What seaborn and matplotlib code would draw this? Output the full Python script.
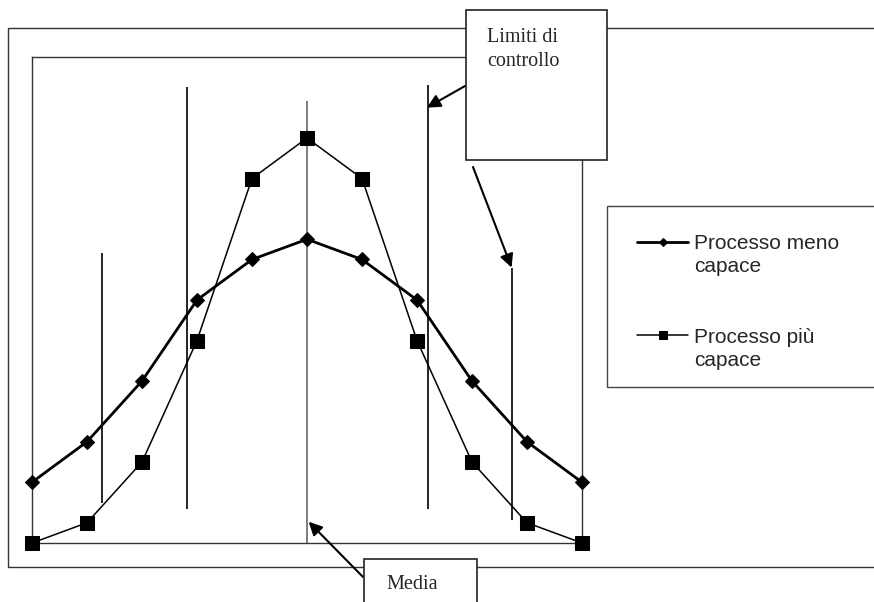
import pandas as pd
import seaborn as sns
import matplotlib.pyplot as plt
from matplotlib.lines import Line2D
from matplotlib.patches import Rectangle

sns.set_style('white')
plt.rcParams['font.family'] = ['Liberation Sans', 'DejaVu Sans']

# dati
punti = list(range(11))
meno_capace = [0.06, 0.10, 0.16, 0.24, 0.28, 0.30, 0.28, 0.24, 0.16, 0.10, 0.06]
piu_capace = [0.00, 0.02, 0.08, 0.20, 0.36, 0.40, 0.36, 0.20, 0.08, 0.02, 0.00]
etichette = ['Processo meno\ncapace', 'Processo più\ncapace']

# limiti di controllo (x, inizio, fine) e media
limiti_x = [1.275, 2.82, 7.195, 8.725]
limiti_y0 = [0.040, 0.034, 0.034, 0.023]
limiti_y1 = [0.286, 0.450, 0.452, 0.272]
media_x = 5.0
media_y1 = 0.437

W, H = 874, 602
def fx(x): return x / W
def fy(y): return 1 - y / H

fig = plt.figure(figsize=(W / 100, H / 100), dpi=100)
ax = fig.add_axes([fx(32), fy(543), (582 - 32) / W, (543 - 57) / H])
ax.set_facecolor('none')

df = pd.DataFrame({'x': punti, 'meno': meno_capace, 'piu': piu_capace})

sns.lineplot(data=df, x='x', y='meno', ax=ax, color='black', lw=2.0,
             marker='D', markersize=7.5, markeredgecolor='black',
             label=etichette[0], legend=False, clip_on=False, zorder=4)
sns.lineplot(data=df, x='x', y='piu', ax=ax, color='black', lw=1.1,
             marker='s', markersize=10, markeredgecolor='black',
             label=etichette[1], legend=False, clip_on=False, zorder=4)

ax.vlines(limiti_x, limiti_y0, limiti_y1, color='black', lw=1.2, zorder=2)
ax.vlines([media_x], [0], [media_y1], color='#666666', lw=1.2, zorder=2)

ax.set_xlim(0, 10)
ax.set_ylim(0, 0.48)
ax.set_xticks([])
ax.set_yticks([])
ax.set_xlabel('')
ax.set_ylabel('')
for s in ax.spines.values():
    s.set_color('#333333')
    s.set_linewidth(1)

# cornice esterna
fig.patches.append(Rectangle((fx(8), fy(567)), (900 - 8) / W, (567 - 28) / H,
                             transform=fig.transFigure, fill=False,
                             edgecolor='#333333', lw=1, zorder=-1))

# legenda con riquadro
fig.patches.append(Rectangle((fx(607), fy(387)), (900 - 607) / W, (387 - 206) / H,
                             transform=fig.transFigure, facecolor='white',
                             edgecolor='#444444', lw=1, zorder=3))
handles, labels = ax.get_legend_handles_labels()
leg = fig.legend(handles, labels, loc='upper left',
                 bbox_to_anchor=(fx(637), fy(234)), bbox_transform=fig.transFigure,
                 frameon=False, fontsize=15, handlelength=2.45, handletextpad=0.3,
                 labelspacing=2.45, borderpad=0, borderaxespad=0, markerscale=0.6)
leg.set_zorder(6)
for t in leg.get_texts():
    t.set_linespacing(1.3)
# simbolo all'altezza della prima riga
for ln in leg.findobj(Line2D):
    ln.set_ydata([y + 10 for y in ln.get_ydata()])

# richiami
serif = ['Liberation Serif', 'DejaVu Serif']
fig.patches.append(Rectangle((fx(466), fy(160)), (607 - 466) / W, (160 - 10) / H,
                             transform=fig.transFigure, facecolor='white',
                             edgecolor='#222222', lw=1.2, zorder=5))
fig.text(fx(487), fy(28), 'Limiti di\ncontrollo', family=serif, fontsize=14.5,
         va='top', ha='left', linespacing=1.35, zorder=6)

fig.patches.append(Rectangle((fx(364), fy(620)), (477 - 364) / W, (620 - 559) / H,
                             transform=fig.transFigure, facecolor='white',
                             edgecolor='#222222', lw=1.2, zorder=5))
fig.text(fx(386), fy(589), 'Media', family=serif, fontsize=14.5,
         va='baseline', ha='left', zorder=6)

freccia = dict(arrowstyle='-|>', color='black', lw=1.5, mutation_scale=20,
               shrinkA=0, shrinkB=0)
ax.annotate('', xy=(7.18, 0.430), xytext=(465, H - 86), textcoords='figure pixels',
            arrowprops=freccia, annotation_clip=False)
ax.annotate('', xy=(8.72, 0.272), xytext=(473, H - 167), textcoords='figure pixels',
            arrowprops=freccia, annotation_clip=False)
ax.annotate('', xy=(5.03, 0.021), xytext=(363, H - 577), textcoords='figure pixels',
            arrowprops=freccia, annotation_clip=False)

fig.savefig('out.png', dpi=100)
